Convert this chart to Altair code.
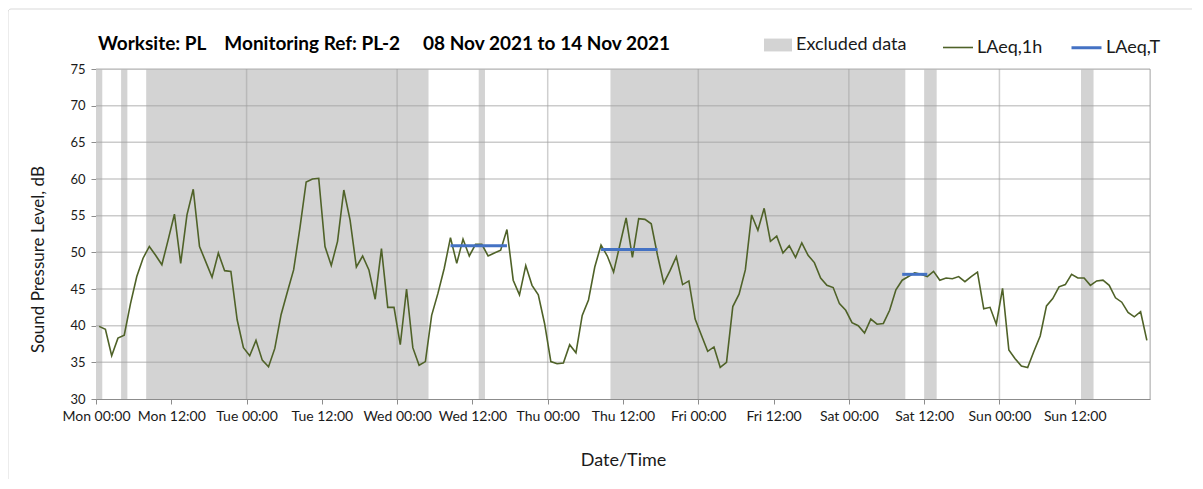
import altair as alt
import pandas as pd

# ---------------- data ----------------
# hourly LAeq,1h values, hour index 0 = Mon 00:00 (sample plotted at mid-hour)
laeq_1h = [
    39.9, 39.5, 35.9, 38.3, 38.7, 43.0, 46.7, 49.2, 50.8, 49.6, 48.3, 51.7,
    55.2, 48.5, 55.1, 58.6, 50.8, 48.7, 46.6, 49.9, 47.5, 47.4, 40.8, 37.0,
    35.9, 38.0, 35.3, 34.4, 36.9, 41.5, 44.6, 47.6, 53.3, 59.6, 60.0, 60.1,
    50.8, 48.2, 51.5, 58.5, 54.4, 48.0, 49.5, 47.6, 43.6, 50.5, 42.5, 42.5,
    37.4, 45.0, 37.0, 34.6, 35.1, 41.4, 44.4, 47.8, 52.0, 48.5, 51.8, 49.5,
    51.1, 51.1, 49.5, 49.9, 50.3, 53.1, 46.2, 44.2, 48.2, 45.5, 44.2, 40.3,
    35.1, 34.8, 34.9, 37.4, 36.3, 41.4, 43.5, 48.0, 51.0, 49.5, 47.3, 51.0,
    54.7, 49.3, 54.6, 54.5, 53.9, 49.6, 45.8, 47.5, 49.4, 45.6, 46.1, 40.9,
    38.7, 36.5, 37.1, 34.3, 35.0, 42.6, 44.3, 47.6, 55.1, 53.0, 56.0, 51.5,
    52.2, 49.9, 50.9, 49.3, 51.3, 49.6, 48.6, 46.5, 45.5, 45.2, 43.0, 42.1,
    40.4, 40.0, 39.0, 40.9, 40.2, 40.3, 42.1, 44.9, 46.2, 46.7, 47.2, 47.0,
    46.7, 47.4, 46.2, 46.5, 46.4, 46.7, 46.0, 46.7, 47.3, 42.3, 42.5, 40.2,
    45.1, 36.7, 35.5, 34.5, 34.3, 36.5, 38.6, 42.7, 43.7, 45.3, 45.6, 47.0,
    46.5, 46.5, 45.5, 46.1, 46.2, 45.5, 43.8, 43.2, 41.8, 41.2, 41.9, 38.0,
]
hour_index = list(range(len(laeq_1h)))

# excluded-data periods (hours from Mon 00:00)
excluded_start = [0, 4, 8, 61, 82, 132, 157]
excluded_end = [1, 5, 53, 62, 129, 134, 159]

# LAeq,T periods: first and last hourly sample, and level
laeqT_first = [56, 80, 128]
laeqT_last = [65, 89, 132]
laeqT_level = [50.9, 50.4, 47.0]

tick_hours = list(range(0, 168, 12))
tick_labels = [
    "Mon 00:00", "Mon 12:00", "Tue 00:00", "Tue 12:00", "Wed 00:00",
    "Wed 12:00", "Thu 00:00", "Thu 12:00", "Fri 00:00", "Fri 12:00",
    "Sat 00:00", "Sat 12:00", "Sun 00:00", "Sun 12:00",
]
day_lines = [24, 48, 72, 96, 120, 144, 168]
y_ticks = [30, 35, 40, 45, 50, 55, 60, 65, 70, 75]
y_grid = [35, 40, 45, 50, 55, 60, 65, 70, 75]

band_name = ["Excluded data"]
band_color = ["#d3d3d3"]
line_names = ["LAeq,1h", "LAeq,T"]
line_colors = ["#4f6228", "#4472c4"]
line_widths = [1.6, 3]

# ---------------- tables ----------------
line_df = pd.DataFrame({
    "t": [h + 0.5 for h in hour_index],
    "level": laeq_1h,
    "series": line_names[0],
})
band_df = pd.DataFrame({"start": excluded_start, "end": excluded_end,
                        "band": band_name[0]})
laeqT_df = pd.DataFrame({
    "start": [h + 0.5 for h in laeqT_first],
    "end": [h + 0.5 for h in laeqT_last],
    "level": laeqT_level,
    "series": line_names[1],
})
ygrid_df = pd.DataFrame({"y": y_grid})
xgrid_df = pd.DataFrame({"x": day_lines})

FONT = "Lato"
TXT = "#1a1a1a"
label_js = "[" + ",".join("'%s'" % s for s in tick_labels) + "]"

x_scale = alt.Scale(domain=[0, 168], nice=False, zero=False)
y_scale = alt.Scale(domain=[30, 75], nice=False, zero=False)

x_axis = alt.Axis(
    values=tick_hours, labelExpr=label_js + "[round(datum.value / 12)]",
    grid=False, title="Date/Time", titleFont=FONT, titleFontSize=18,
    titleFontWeight="normal", titleColor=TXT, titlePadding=28,
    labelFont=FONT, labelFontSize=14, labelColor=TXT, labelPadding=5,
    domainColor="#8c8c8c", tickColor="#8c8c8c", tickSize=5, labelFlush=False,
    labelOverlap=False)
y_axis = alt.Axis(
    values=y_ticks, grid=False, title="Sound Pressure Level, dB",
    titleFont=FONT, titleFontSize=17, titleFontWeight="normal",
    titleColor=TXT, titlePadding=22, titleY=190,
    labelFont=FONT, labelFontSize=13, labelColor=TXT, labelPadding=6,
    domainColor="#8c8c8c", tickColor="#8c8c8c", tickSize=5)

band_legend = alt.Legend(
    title=None, orient="none", legendX=668, legendY=-38,
    symbolType="M-1,-0.46H1V0.46H-1Z", symbolSize=784, symbolStrokeWidth=0,
    labelFont=FONT, labelFontSize=18, labelColor=TXT, labelOffset=4)
line_legend = alt.Legend(
    title=None, orient="none", legendX=846, legendY=-38, direction="horizontal",
    symbolType="stroke", symbolSize=900,
    labelFont=FONT, labelFontSize=18, labelColor=TXT, labelOffset=3,
    columnPadding=22)

stroke_enc = alt.Stroke("series:N", scale=alt.Scale(domain=line_names, range=line_colors),
                        legend=line_legend)
width_enc = alt.StrokeWidth("series:N", scale=alt.Scale(domain=line_names, range=line_widths),
                            legend=line_legend)

frame = alt.Chart(pd.DataFrame({"k": [0]})).mark_rect(
    fill=None, stroke="#d9d9d9", strokeWidth=1, cornerRadius=3
).encode(x=alt.value(-88), x2=alt.value(1250), y=alt.value(-60), y2=alt.value(600))

bands = alt.Chart(band_df).mark_rect().encode(
    x=alt.X("start:Q", scale=x_scale, axis=x_axis),
    x2="end:Q",
    fill=alt.Fill("band:N", scale=alt.Scale(domain=band_name, range=band_color),
                  legend=band_legend),
)

hgrid = alt.Chart(ygrid_df).mark_rule(color="#a0a0a0", opacity=0.55, strokeWidth=1.5).encode(
    y=alt.Y("y:Q", scale=y_scale, axis=y_axis)
)
vgrid = alt.Chart(xgrid_df).mark_rule(color="#a0a0a0", opacity=0.5, strokeWidth=1.5).encode(
    x=alt.X("x:Q", scale=x_scale, axis=x_axis)
)

line = alt.Chart(line_df).mark_line().encode(
    x=alt.X("t:Q", scale=x_scale, axis=x_axis),
    y=alt.Y("level:Q", scale=y_scale, axis=y_axis),
    stroke=stroke_enc,
    strokeWidth=width_enc,
)

laeqT = alt.Chart(laeqT_df).mark_rule().encode(
    x=alt.X("start:Q", scale=x_scale, axis=x_axis),
    x2="end:Q",
    y=alt.Y("level:Q", scale=y_scale, axis=y_axis),
    stroke=stroke_enc,
    strokeWidth=width_enc,
)

chart = alt.layer(frame, bands, hgrid, vgrid, line, laeqT).properties(
    width=1054, height=330,
    title=alt.TitleParams(
        text="Worksite: PL\u00a0\u00a0\u00a0 Monitoring Ref: PL-2\u00a0\u00a0\u00a0\u00a0 08 Nov 2021 to 14 Nov 2021",
        anchor="start", frame="group", font=FONT, fontSize=19, fontWeight="bold",
        color="#000000", offset=14, dx=2, dy=59),
    autosize=alt.AutoSizeParams(type="none"),
    padding={"left": 88, "top": 61, "right": 42, "bottom": 80},
).configure_view(stroke=None).configure(background="white")

chart.save("out.html", embed_options={"renderer": "svg", "actions": False})
